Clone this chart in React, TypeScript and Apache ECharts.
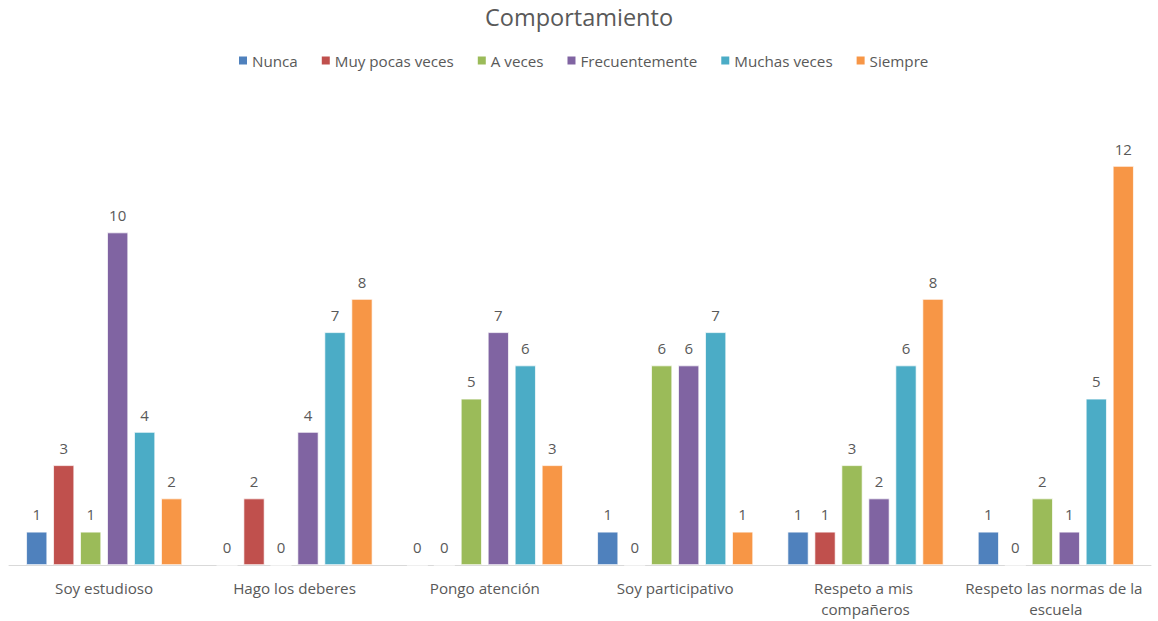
import React, { useEffect, useRef } from "react";
import * as echarts from "echarts";

const categories = [
  "Soy estudioso",
  "Hago los deberes",
  "Pongo atención",
  "Soy participativo",
  "Respeto a mis compañeros",
  "Respeto las normas de la escuela",
];
const seriesNames = ["Nunca", "Muy pocas veces", "A veces", "Frecuentemente", "Muchas veces", "Siempre"];
const nunca = [1, 0, 0, 1, 1, 1];
const muyPocasVeces = [3, 2, 0, 0, 1, 0];
const aVeces = [1, 0, 5, 6, 3, 2];
const frecuentemente = [10, 4, 7, 6, 2, 1];
const muchasVeces = [4, 7, 6, 7, 6, 5];
const siempre = [2, 8, 3, 1, 8, 12];
const colors = ["#4F81BD", "#C0504D", "#9BBB59", "#8064A2", "#4BACC6", "#F79646"];

const FONT = "'Open Sans', sans-serif";
const TXT = "#595959";

export default function App() {
  const ref = useRef<HTMLDivElement>(null);
  useEffect(() => {
    if (!ref.current) return;
    const chart = echarts.init(ref.current, undefined, { renderer: "svg" });
    const values = [nunca, muyPocasVeces, aVeces, frecuentemente, muchasVeces, siempre];
    chart.setOption({
      animation: false,
      title: {
        text: "Comportamiento",
        left: "center",
        top: 0,
        textStyle: { fontFamily: FONT, fontSize: 23.5, fontWeight: "normal", color: TXT },
      },
      legend: {
        top: 48,
        left: 232,
        itemWidth: 10,
        itemHeight: 10,
        itemGap: 22,
        icon: "rect",
        textStyle: { fontFamily: FONT, fontSize: 15.2, color: TXT, padding: [0, 0, 0, -1] },
        data: seriesNames,
      },
      grid: { left: 9, right: 7, top: 99.5, bottom: 56, containLabel: false },
      xAxis: {
        type: "category",
        data: categories,
        axisLine: { lineStyle: { color: "#D9D9D9" } },
        axisTick: { show: false },
        axisLabel: {
          fontFamily: FONT,
          fontSize: 15.2,
          color: TXT,
          margin: 12,
          lineHeight: 21,
          width: 182,
          overflow: "break",
          interval: 0,
        },
      },
      yAxis: {
        type: "value",
        min: 0,
        max: 14,
        show: false,
        splitLine: { show: false },
      },
      series: seriesNames.map((name, i) => ({
        name,
        type: "bar",
        data: values[i],
        barWidth: 21,
        barGap: "28.5%",
        itemStyle: { color: colors[i], borderColor: "#FFFFFF", borderWidth: 0.7 },
        label: {
          show: true,
          position: "top",
          distance: 10,
          fontFamily: FONT,
          fontSize: 15,
          color: TXT,
        },
      })),
    });
    return () => chart.dispose();
  }, []);
  return <div ref={ref} style={{ width: 1158, height: 621, position: "absolute", left: 0, top: 0 }} />;
}
